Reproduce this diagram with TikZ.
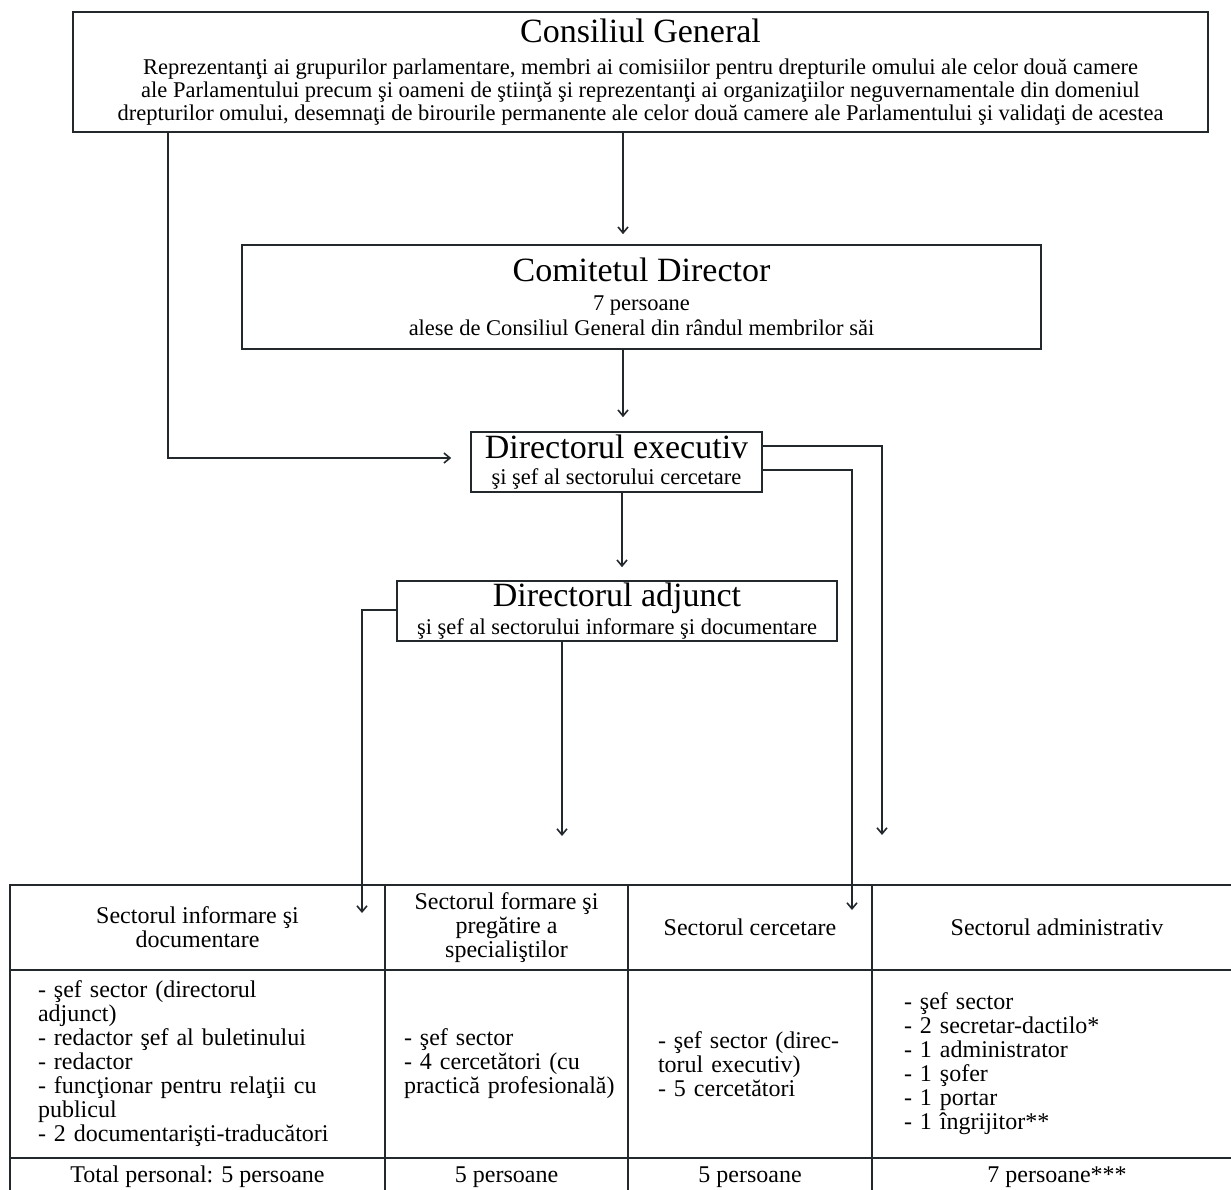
\documentclass[tikz,border=0pt]{standalone}
\usepackage{fontspec}
\setmainfont{Liberation Serif}
\usetikzlibrary{arrows.meta}
\definecolor{ink}{RGB}{35,40,45}
\newcommand\ttlfont{\fontsize{34}{34}\selectfont}
\begin{document}
\begin{tikzpicture}[x=1pt,y=-1pt,
  box/.style={draw=ink, line width=1.6pt, inner sep=0pt, align=center, font=\fontsize{22.5}{22.5}\selectfont},
  cell/.style={draw=ink, line width=1.6pt, inner sep=0pt, align=center, font=\fontsize{24}{24}\selectfont},
  arr/.style={draw=ink, line width=1.6pt, -{Straight Barb[length=6pt,width=10pt]}}]
\useasboundingbox (0,0) rectangle (1231,1189);
\clip (0,0) rectangle (1231,1189);

% boxes
\node[box, minimum width=1135pt, minimum height=120pt] (cg) at (640.5,72)
  {{\ttlfont Consiliul General}\\[10pt]
   Reprezentanţi ai grupurilor parlamentare, membri ai comisiilor pentru drepturile omului ale celor două camere\\[0.5pt]
   ale Parlamentului precum şi oameni de ştiinţă şi reprezentanţi ai organizaţiilor neguvernamentale din domeniul\\[0.5pt]
   drepturilor omului, desemnaţi de birourile permanente ale celor două camere ale Parlamentului şi validaţi de acestea};
\node[box, minimum width=799pt, minimum height=104pt] (cd) at (641.5,297)
  {{\ttlfont Comitetul Director}\\[6pt] 7 persoane\\[3pt] alese de Consiliul General din rândul membrilor săi};
\node[box, minimum width=291pt, minimum height=60pt] (de) at (616.5,462)
  {{\ttlfont Directorul executiv}\\[4pt] şi şef al sectorului cercetare};
\node[box, minimum width=440pt, minimum height=60pt] (da) at (617,611)
  {{\ttlfont Directorul adjunct}\\[4pt] şi şef al sectorului informare şi documentare};

% table
\node[cell, minimum width=375pt, minimum height=85pt] (h1) at (197.5,927.5) {Sectorul informare şi\\ documentare};
\node[cell, minimum width=243pt, minimum height=85pt] (h2) at (506.5,927.5) {Sectorul formare şi\\ pregătire a\\ specialiştilor};
\node[cell, minimum width=244pt, minimum height=85pt] (h3) at (750,927.5) {Sectorul cercetare};
\node[cell, minimum width=370pt, minimum height=85pt] (h4) at (1057,927.5) {Sectorul administrativ};

\node[cell, minimum width=375pt, minimum height=188pt, text width=319pt, align=left] (b1) at (197.5,1064)
  {\mbox{- şef sector (directorul}\\ \mbox{adjunct)}\\ \mbox{- redactor şef al buletinului}\\ \mbox{- redactor}\\ \mbox{- funcţionar pentru relaţii cu}\\ \mbox{publicul}\\ \mbox{- 2 documentarişti-traducători}};
\node[cell, minimum width=243pt, minimum height=188pt, text width=205pt, align=left] (b2) at (506.5,1064)
  {\mbox{- şef sector}\\ \mbox{- 4 cercetători (cu}\\ \mbox{practică profesională)}};
\node[cell, minimum width=244pt, minimum height=188pt, text width=184pt, align=left] (b3) at (750,1064)
  {\mbox{- şef sector (direc-}\\ \mbox{torul executiv)}\\ \mbox{- 5 cercetători}};
\node[cell, minimum width=370pt, minimum height=188pt, text width=306pt, align=left] (b4) at (1057,1064)
  {\mbox{- şef sector}\\ \mbox{- 2 secretar-dactilo*}\\ \mbox{- 1 administrator}\\ \mbox{- 1 şofer}\\ \mbox{- 1 portar}\\ \mbox{- 1 îngrijitor**}};

\node[cell, minimum width=375pt, minimum height=38pt] (t1) at (197.5,1177) {Total personal: 5 persoane};
\node[cell, minimum width=243pt, minimum height=38pt] (t2) at (506.5,1177) {5 persoane};
\node[cell, minimum width=244pt, minimum height=38pt] (t3) at (750,1177) {5 persoane};
\node[cell, minimum width=370pt, minimum height=38pt] (t4) at (1057,1177) {7 persoane***};

% free ends of connectors
\coordinate (admin) at (882,835);
\coordinate (h3in) at (852,910);
\coordinate (h1in) at (362,913);
\coordinate (frm) at (562,836);

% connectors
\draw[arr] ([xshift=-17.5pt]cg.south) -- ([xshift=-18.5pt,yshift=10pt]cd.north);
\draw[arr] ([xshift=-18.5pt]cd.south) -- ([xshift=6.5pt,yshift=14pt]de.north);
\draw[arr] ([xshift=5.5pt]de.south) -- ([xshift=5pt,yshift=13pt]da.north);
\draw[arr] ([xshift=-472.5pt]cg.south) |- ([xshift=-19pt,yshift=4pt]de.west);
\draw[arr] ([yshift=16pt]de.east) -| (admin);
\draw[arr] ([yshift=-8pt]de.east) -| (h3in);
\draw[arr] ([yshift=1pt]da.west) -| (h1in);
\draw[arr] ([xshift=-55pt]da.south) -- (frm);
\end{tikzpicture}
\end{document}
